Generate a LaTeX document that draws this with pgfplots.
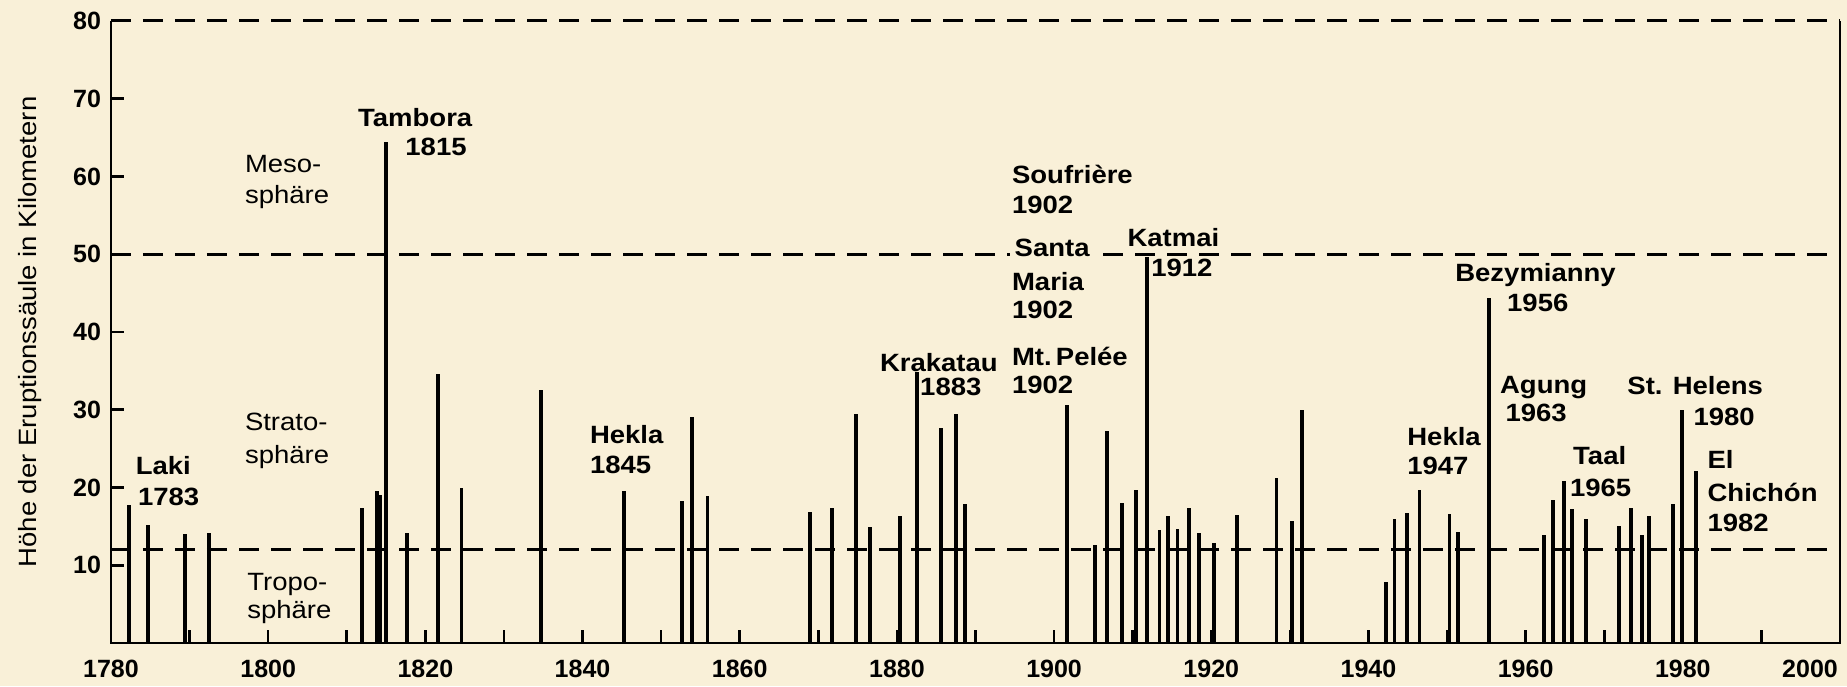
\documentclass[border=0pt]{standalone}
\usepackage{pgfplots}
\pgfplotsset{compat=1.18}
\usepackage{fontspec}
\setmainfont{Liberation Sans}[FakeStretch=1.1]
\newfontfamily\tickfont{Liberation Sans}
\definecolor{bgc}{RGB}{249,240,216}
\pgfplotstableread{
year h
1782.3 17.7
1784.7 15.2
1789.4 14.0
1792.5 14.2
1811.9 17.3
1813.8 19.6
1814.2 19.0
1815.0 64.5
1817.7 14.2
1821.6 34.6
1824.6 20.0
1834.7 32.6
1845.3 19.6
1852.7 18.3
1853.9 29.1
1855.9 18.9
1868.9 16.9
1871.7 17.4
1874.8 29.4
1876.6 14.9
1880.4 16.3
1882.6 34.9
1885.6 27.7
1887.5 29.4
1888.7 17.9
1901.6 30.6
1905.2 12.6
1906.7 27.3
1908.6 18.0
1910.4 19.7
1911.8 49.6
1913.4 14.5
1914.5 16.3
1915.7 14.6
1917.2 17.3
1918.4 14.2
1920.3 12.9
1923.3 16.4
1928.3 21.2
1930.3 15.7
1931.5 30.0
1942.2 7.8
1943.3 16.0
1944.9 16.7
1946.5 19.7
1950.3 16.6
1951.4 14.3
1955.3 44.4
1962.3 13.9
1963.5 18.4
1964.9 20.8
1965.9 17.2
1967.7 15.9
1971.9 15.0
1973.4 17.4
1974.8 13.9
1975.7 16.3
1978.7 17.9
1979.9 30.0
1981.7 22.1
}\eruptions
\begin{document}
\begin{tikzpicture}[
  lbl/.style={font=\fontsize{12.5}{15}\selectfont\bfseries, inner sep=0pt, text=black},
  reg/.style={font=\fontsize{12.5}{15}\selectfont, inner sep=0pt, text=black},
  dl/.style={line width=1.5pt, dash pattern=on 10pt off 6pt, black}]
\fill[bgc] (-55.5pt,-21.5pt) rectangle (868pt,321.5pt);
\path[use as bounding box] (-55.5pt,-21.5pt) rectangle (868pt,321.5pt);
\begin{axis}[at={(0pt,0pt)}, anchor=south west, scale only axis,
  width=864.5pt, height=311pt,
  xmin=1780, xmax=2000, ymin=0, ymax=80, clip=false,
  axis line style={draw=none},
  xtick={1780,1800,1820,1840,1860,1880,1900,1920,1940,1960,1980},
  xticklabels={1780,1800,1820,1840,1860,1880,1900,1920,1940,1960,1980},
  minor xtick={1790,1810,1830,1850,1870,1890,1910,1930,1950,1970,1990},
  extra x ticks={2000}, extra x tick labels={2000},
  extra x tick style={xticklabel style={xshift=-15pt}},
  ytick={10,20,30,40,50,60,70,80},
  yticklabels={10,20,30,40,50,60,70,80},
  xtick pos=left, ytick pos=left, tick align=inside,
  major tick length=6.5pt, minor tick length=6.5pt,
  tick style={line width=1.3pt, black},
  xticklabel style={font=\tickfont\fontsize{12.5}{15}\selectfont\bfseries, anchor=base, yshift=-17.25pt},
  yticklabel style={font=\tickfont\fontsize{12.5}{15}\selectfont\bfseries, anchor=east, xshift=-1.5pt},
  ylabel={Höhe der Eruptionssäule in Kilometern},
  ylabel style={font=\fontsize{12.5}{15}\selectfont, at={(axis description cs:-0.0468,0.5)}, anchor=center},
]
% reference levels
\draw[dl] (axis cs:1780,80) -- (axis cs:2000,80);
\draw[dl] (axis cs:1780,50) -- (axis cs:2000,50);
\draw[dl] (axis cs:1780,12) -- (axis cs:2000,12);
% axis frame (left, bottom, right)
\draw[line width=1.4pt, black] (axis cs:1780,80) -- (axis cs:1780,0) -- (axis cs:2000,0) -- (axis cs:2000,80);
% eruption columns
\addplot[ycomb, no marks, black, line width=1.9pt] table[x=year, y=h] {\eruptions};
% layer names
\node[reg, anchor=base west] at (axis cs:1797.0,60.5) {Meso-};
\node[reg, anchor=base west] at (axis cs:1797.0,56.5) {sphäre};
\node[reg, anchor=base west] at (axis cs:1797.0,27.3) {Strato-};
\node[reg, anchor=base west] at (axis cs:1797.0,23.1) {sphäre};
\node[reg, anchor=base west] at (axis cs:1797.3,6.7) {Tropo-};
\node[reg, anchor=base west] at (axis cs:1797.3,3.1) {sphäre};
% volcano labels
\node[lbl, anchor=base west] at (axis cs:1783.1,21.7) {Laki};
\node[lbl, anchor=base west] at (axis cs:1783.4,17.7) {1783};
\node[lbl, anchor=base west] at (axis cs:1811.4,66.4) {Tambora};
\node[lbl, anchor=base east] at (axis cs:1825.3,62.7) {1815};
\node[lbl, anchor=base west] at (axis cs:1840.9,25.6) {Hekla};
\node[lbl, anchor=base west] at (axis cs:1840.9,21.8) {1845};
\node[lbl, anchor=base west] at (axis cs:1877.8,34.9) {Krakatau};
\node[lbl, anchor=base east] at (axis cs:1890.8,31.8) {1883};
\node[lbl, anchor=base west] at (axis cs:1894.6,59.1) {Soufrière};
\node[lbl, anchor=base west] at (axis cs:1894.6,55.2) {1902};
\node[lbl, anchor=base west, fill=bgc, inner sep=2.5pt] at (axis cs:1894.3,49.7) {Santa};
\node[lbl, anchor=base west] at (axis cs:1894.6,45.3) {Maria};
\node[lbl, anchor=base west] at (axis cs:1894.6,41.7) {1902};
\node[lbl, anchor=base west] at (axis cs:1894.6,35.7) {Mt.\,Pelée};
\node[lbl, anchor=base west] at (axis cs:1894.6,32.1) {1902};
\node[lbl, anchor=base west] at (axis cs:1909.3,51.0) {Katmai};
\node[lbl, anchor=base east] at (axis cs:1920.2,47.1) {1912};
\node[lbl, anchor=base west] at (axis cs:1944.9,25.4) {Hekla};
\node[lbl, anchor=base west] at (axis cs:1944.9,21.7) {1947};
\node[lbl, anchor=base west] at (axis cs:1951.0,46.5) {Bezymianny};
\node[lbl, anchor=base west] at (axis cs:1957.6,42.7) {1956};
\node[lbl, anchor=base west] at (axis cs:1956.7,32.1) {Agung};
\node[lbl, anchor=base west] at (axis cs:1957.4,28.5) {1963};
\node[lbl, anchor=base west] at (axis cs:1966.0,22.9) {Taal};
\node[lbl, anchor=base west] at (axis cs:1965.6,18.9) {1965};
\node[lbl, anchor=base west] at (axis cs:1972.9,32.0) {St. Helens};
\node[lbl, anchor=base east] at (axis cs:1989.2,28.0) {1980};
\node[lbl, anchor=base west] at (axis cs:1983.1,22.4) {El};
\node[lbl, anchor=base west] at (axis cs:1983.1,18.2) {Chichón};
\node[lbl, anchor=base west] at (axis cs:1983.1,14.3) {1982};
\end{axis}
\end{tikzpicture}
\end{document}
